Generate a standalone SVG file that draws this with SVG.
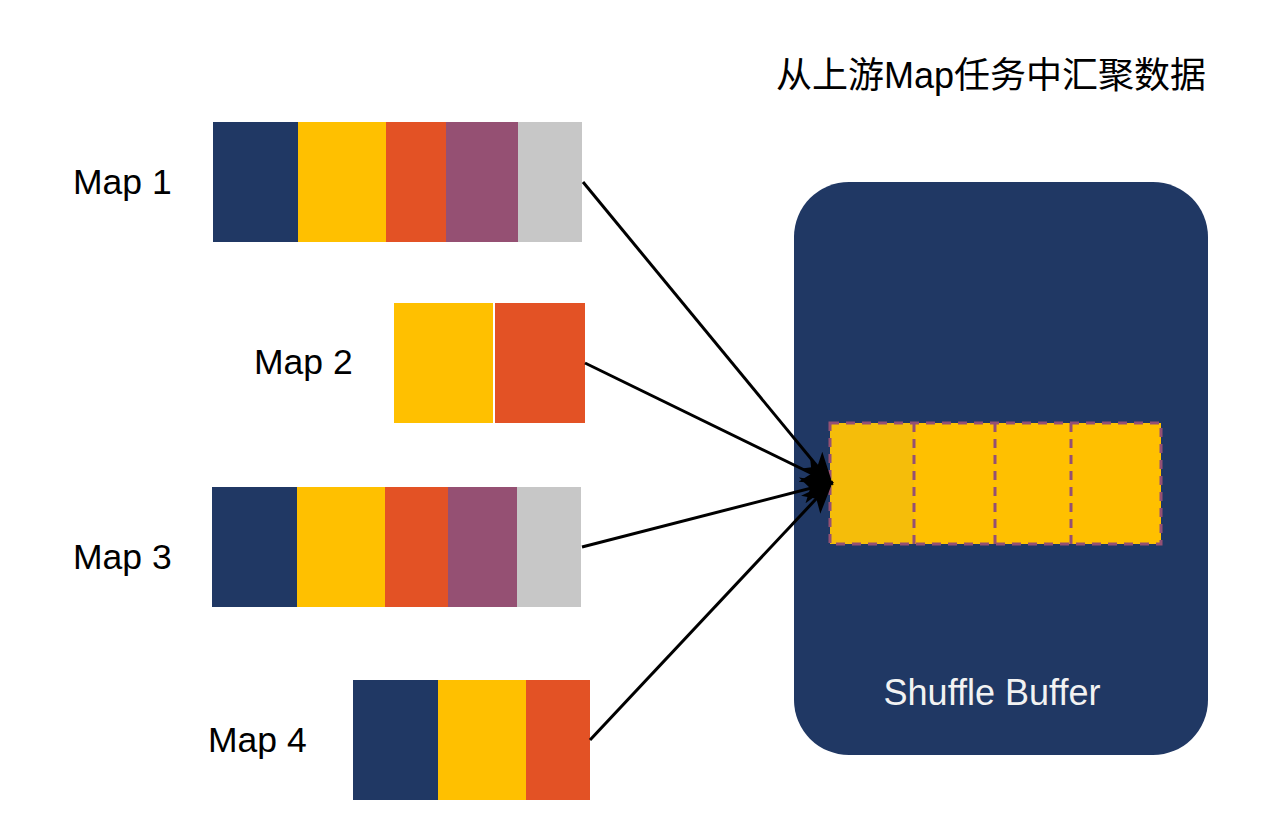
<svg xmlns="http://www.w3.org/2000/svg" width="1280" height="833" viewBox="0 0 1280 833">
<defs>
<style>
.lbl{font-family:"Liberation Sans",Arial,sans-serif;font-size:35.5px;fill:#000}
.navy{fill:#203864}.yel{fill:#FFC000}.red{fill:#E35225}.pur{fill:#955073}.gray{fill:#C7C7C7}
.conn{stroke:#000;stroke-width:3;fill:none;marker-end:url(#arr)}
.dash{fill:none;stroke:#955073;stroke-width:3;stroke-dasharray:9 7}
</style>
<marker id="arr" viewBox="0 0 20 20" refX="18" refY="10" markerWidth="11" markerHeight="11" markerUnits="strokeWidth" orient="auto">
<path d="M0,2 L20,10 L0,18 L5,10 Z" fill="#000"/>
</marker>
</defs>
<rect width="1280" height="833" fill="#fff"/>
<text x="776" y="88" style="font-family:'Liberation Sans','Noto Sans CJK SC',sans-serif;font-size:36px" fill="#000">从上游Map任务中汇聚数据</text>

<g id="map1">
<text class="lbl" x="73" y="194">Map 1</text>
<rect class="navy" x="213" y="122" width="85" height="120"/>
<rect class="yel" x="298" y="122" width="88" height="120"/>
<rect class="red" x="386" y="122" width="60" height="120"/>
<rect class="pur" x="446" y="122" width="72" height="120"/>
<rect class="gray" x="518" y="122" width="64" height="120"/>
</g>
<g id="map2">
<text class="lbl" x="254" y="374">Map 2</text>
<rect class="yel" x="394" y="303" width="99" height="120"/>
<rect class="red" x="495" y="303" width="90" height="120"/>
</g>
<g id="map3">
<text class="lbl" x="73" y="569">Map 3</text>
<rect class="navy" x="212" y="487" width="85" height="120"/>
<rect class="yel" x="297" y="487" width="88" height="120"/>
<rect class="red" x="385" y="487" width="63" height="120"/>
<rect class="pur" x="448" y="487" width="69" height="120"/>
<rect class="gray" x="517" y="487" width="64" height="120"/>
</g>
<g id="map4">
<text class="lbl" x="208" y="752">Map 4</text>
<rect class="navy" x="353" y="680" width="85" height="120"/>
<rect class="yel" x="438" y="680" width="88" height="120"/>
<rect class="red" x="526" y="680" width="64" height="120"/>
</g>

<g id="shuffle-buffer">
<rect x="794" y="182" width="414" height="573" rx="55" ry="55" fill="#203864"/>
<rect x="830" y="423" width="84" height="121" fill="#F5BD0A"/>
<rect x="914" y="423" width="247" height="121" fill="#FFC000"/>
<rect class="dash" x="830" y="423" width="331" height="121"/>
<line class="dash" x1="914" y1="423" x2="914" y2="544"/>
<line class="dash" x1="995" y1="423" x2="995" y2="544"/>
<line class="dash" x1="1071" y1="423" x2="1071" y2="544"/>
<text x="992" y="705" text-anchor="middle" style="font-family:'Liberation Sans',Arial,sans-serif;font-size:36px" fill="#F2F2F2">Shuffle Buffer</text>
</g>

<g id="connectors">
<line class="conn" x1="583" y1="182" x2="831" y2="483"/>
<line class="conn" x1="585" y1="363" x2="831" y2="483"/>
<line class="conn" x1="582" y1="547" x2="831" y2="483"/>
<line class="conn" x1="590" y1="740" x2="831" y2="483"/>
</g>
</svg>
